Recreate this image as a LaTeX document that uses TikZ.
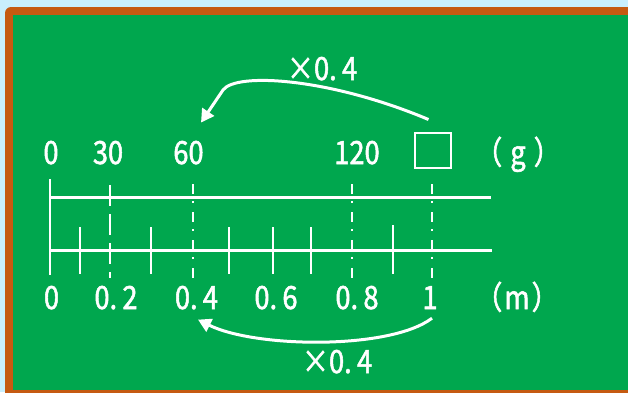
\documentclass[tikz,border=0pt]{standalone}
\usepackage{fontspec}
\usepackage{tikz}
\usetikzlibrary{arrows.meta}
\newfontfamily\jpfont[FakeStretch=0.85,FakeBold=1.6]{Noto Sans CJK JP}
\definecolor{sky}{HTML}{C9EFFD}
\definecolor{frame}{HTML}{C55A11}
\definecolor{board}{HTML}{00A74E}
\tikzset{
  num/.style={text=white, font=\jpfont\fontsize{32}{32}\selectfont, inner sep=0pt, anchor=base},
  axis/.style={draw=white, line width=3pt},
  tick/.style={draw=white, line width=2pt},
  guide/.style={draw=white, line width=2pt, dash pattern=on 10pt off 7pt on 2pt off 9pt},
  dguide/.style={draw=white, line width=2pt, dash pattern=on 21pt off 8pt},
  flow/.style={draw=white, line width=3pt, -{Triangle[length=13pt,width=14pt]}},
}

\begin{document}
\begin{tikzpicture}[x=1pt,y=-1pt]
\useasboundingbox (0,0) rectangle (628,392);
\fill[sky] (0,0) rectangle (628,392);
\fill[frame, rounded corners=6pt] (5,7) rectangle (660,410);
\fill[board] (13,15) rectangle (660,390);
% weight scale (top) and length scale (bottom)
\draw[axis] (50,197) -- (491,197);
\draw[axis] (50,250) -- (492,250);
\draw[tick] (50,179) -- (50,275);
\foreach \x/\top in {80/227, 151/227, 229/227, 273/227, 311/227, 393/225}
  \draw[tick] (\x,\top) -- (\x,274);
\draw[dguide] (110,185) -- (110,278);
\foreach \x in {193, 352, 432}
  \draw[guide] (\x,184) -- (\x,278);
% labels
\node[num] (g0) at (51,164) {0};
\node[num] (g30) at (108,164) {30};
\node[num] (g60) at (188.5,164) {60};
\node[num] (g120) at (357,164) {120};
\node[draw=white, line width=2pt, minimum width=36pt, minimum height=35pt, inner sep=0pt] (sq) at (432.5,150) {};
\node[num] (gu) at (518,164) {（\hspace{8pt}g\hspace{8pt}）};
\node[num] (m0) at (51.5,309) {0};
\node[num] (m02) at (116,309) {0.\,2};
\node[num] (m04) at (196.5,309) {0.\,4};
\node[num] (m06) at (276,309) {0.\,6};
\node[num] (m08) at (357,309) {0.\,8};
\node[num] (m1) at (430,309) {1};
\node[num] (mu) at (517,309) {（\hspace{2pt}m\hspace{2pt}）};
% multiplier arrows
\draw[flow] ([xshift=-4pt,yshift=12pt]sq.north) .. controls (330,78) and (236,72) .. (223,90) -- ([xshift=12.5pt,yshift=18pt]g60.north);
\node[num] (ktop) at (322,80) {×0.\,4};
\draw[flow] ([xshift=2pt,yshift=-9pt]m1.south) .. controls (390,350) and (255,348) .. ([xshift=1.5pt,yshift=-10pt]m04.south);
\node[num] (kbot) at (337,373) {×0.\,4};
\end{tikzpicture}
\end{document}
